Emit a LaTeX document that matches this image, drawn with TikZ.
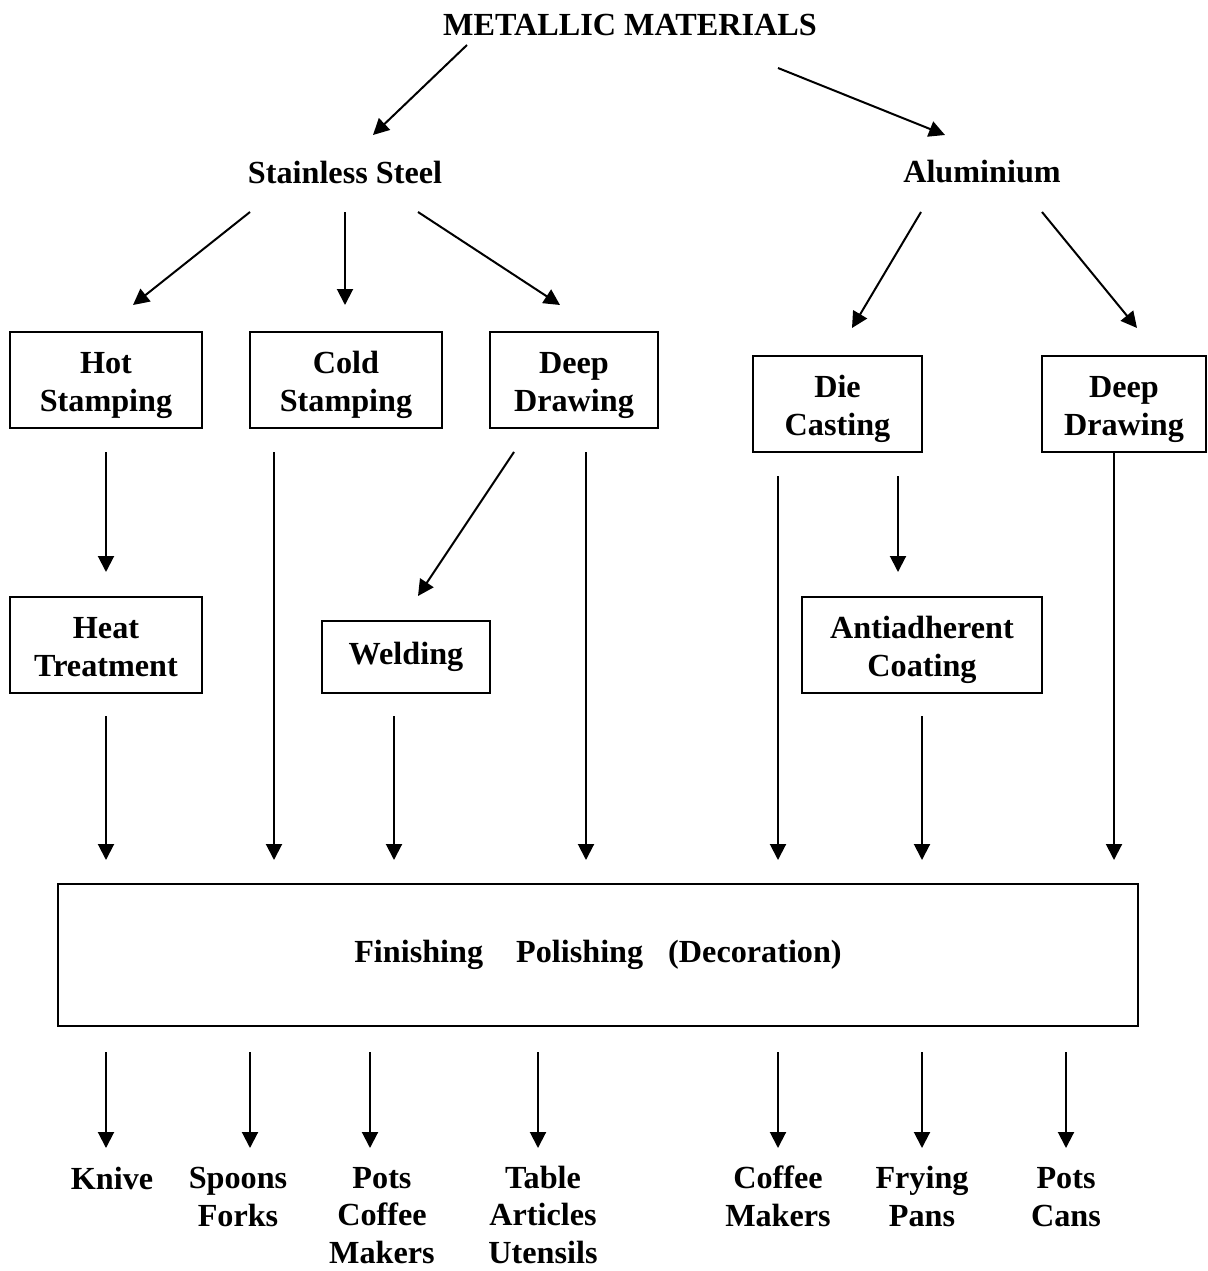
\documentclass[tikz,border=0pt]{standalone}
\usepackage{fontspec}
\setmainfont{Liberation Serif}
\usetikzlibrary{arrows.meta,calc}
\begin{document}
\begin{tikzpicture}[
	x=1pt,
	y=1pt,
	font=\fontsize{32.2}{37.5}\selectfont\bfseries,
	box/.style={draw,line width=2pt,inner sep=0pt,align=center,minimum height=96pt},
	twoline/.style={text height=64pt,text depth=2pt},
	lbl/.style={align=center,inner sep=0pt},
	arr/.style={-{Triangle[length=16pt,width=16pt]},line width=2pt}
	]
	\useasboundingbox (0,0) rectangle (1207,-1271);
	% materials
	\node[lbl] (top) at (630,-25) {METALLIC MATERIALS};
	\node[lbl] (ss) at (345,-172) {Stainless Steel};
	\node[lbl] (al) at (982,-172) {Aluminium};
	% processes
	\node[box,twoline,minimum width=192pt] (hot) at (106,-380) {Hot\\Stamping};
	\node[box,twoline,minimum width=192pt] (cold) at (346,-380) {Cold\\Stamping};
	\node[box,twoline,minimum width=168pt] (deep) at (574,-380) {Deep\\Drawing};
	\node[box,twoline,minimum width=169pt] (die) at (837.5,-404) {Die\\Casting};
	\node[box,twoline,minimum width=164pt] (deepal) at (1124,-404) {Deep\\Drawing};
	\node[box,twoline,minimum width=192pt] (heat) at (106,-645) {Heat\\Treatment};
	\node[box,minimum width=168pt,minimum height=72pt] (weld) at (406,-657) {Welding};
	\node[box,twoline,minimum width=240pt] (anti) at (922,-645) {Antiadherent\\Coating};
	\node[box,minimum width=1080pt,minimum height=142pt] (fin) at (598,-955)
		{Finishing\hspace{33pt}Polishing\hspace{25pt}(Decoration)};
	% products (base = last line)
	\node[lbl,anchor=base] (p1) at (112,-1189) {Knive};
	\node[lbl,anchor=base] (p2) at (238,-1226) {Spoons\\Forks};
	\node[lbl,anchor=base] (p3) at (382,-1263) {Pots\\Coffee\\Makers};
	\node[lbl,anchor=base] (p4) at (543,-1263) {Table\\Articles\\Utensils};
	\node[lbl,anchor=base] (p5) at (778,-1226) {Coffee\\Makers};
	\node[lbl,anchor=base] (p6) at (922,-1226) {Frying\\Pans};
	\node[lbl,anchor=base] (p7) at (1066,-1226) {Pots\\Cans};
	% connectors
	\draw[arr] ($(top)+(-163,-20)$) -- ($(ss)+(28,37)$);
	\draw[arr] ($(top)+(148,-43)$) -- ($(al)+(-37,37)$);
	\draw[arr] ($(ss)+(-95,-40)$) -- ($(hot)+(27,75)$);
	\draw[arr] ($(ss)+(0,-40)$) -- ($(cold)+(-1,75)$);
	\draw[arr] ($(ss)+(73,-40)$) -- ($(deep)+(-14,75)$);
	\draw[arr] ($(al)+(-61,-40)$) -- ($(die)+(14.5,76)$);
	\draw[arr] ($(al)+(60,-40)$) -- ($(deepal)+(13,76)$);
	\draw[arr] ($(hot)+(0,-72)$) -- ($(heat)+(0,73)$);
	\draw[arr] ($(cold)+(-72,-72)$) -- ($(fin)+(-324,95)$);
	\draw[arr] ($(deep)+(-60,-72)$) -- ($(weld)+(12,61)$);
	\draw[arr] ($(deep)+(12,-72)$) -- ($(fin)+(-12,95)$);
	\draw[arr] ($(die)+(-59.5,-72)$) -- ($(fin)+(180,95)$);
	\draw[arr] ($(die)+(60.5,-72)$) -- ($(anti)+(-24,73)$);
	\draw[arr] ($(deepal)+(-10,-48)$) -- ($(fin)+(516,95)$);
	\draw[arr] ($(heat)+(0,-71)$) -- ($(fin)+(-492,95)$);
	\draw[arr] ($(weld)+(-12,-59)$) -- ($(fin)+(-204,95)$);
	\draw[arr] ($(anti)+(0,-71)$) -- ($(fin)+(324,95)$);
	\draw[arr] ($(fin)+(-492,-97)$) -- ($(p1.base)+(-6,41)$);
	\draw[arr] ($(fin)+(-348,-97)$) -- ($(p2.base)+(12,78)$);
	\draw[arr] ($(fin)+(-228,-97)$) -- ($(p3.base)+(-12,115)$);
	\draw[arr] ($(fin)+(-60,-97)$) -- ($(p4.base)+(-5,115)$);
	\draw[arr] ($(fin)+(180,-97)$) -- ($(p5.base)+(0,78)$);
	\draw[arr] ($(fin)+(324,-97)$) -- ($(p6.base)+(0,78)$);
	\draw[arr] ($(fin)+(468,-97)$) -- ($(p7.base)+(0,78)$);
\end{tikzpicture}
\end{document}
